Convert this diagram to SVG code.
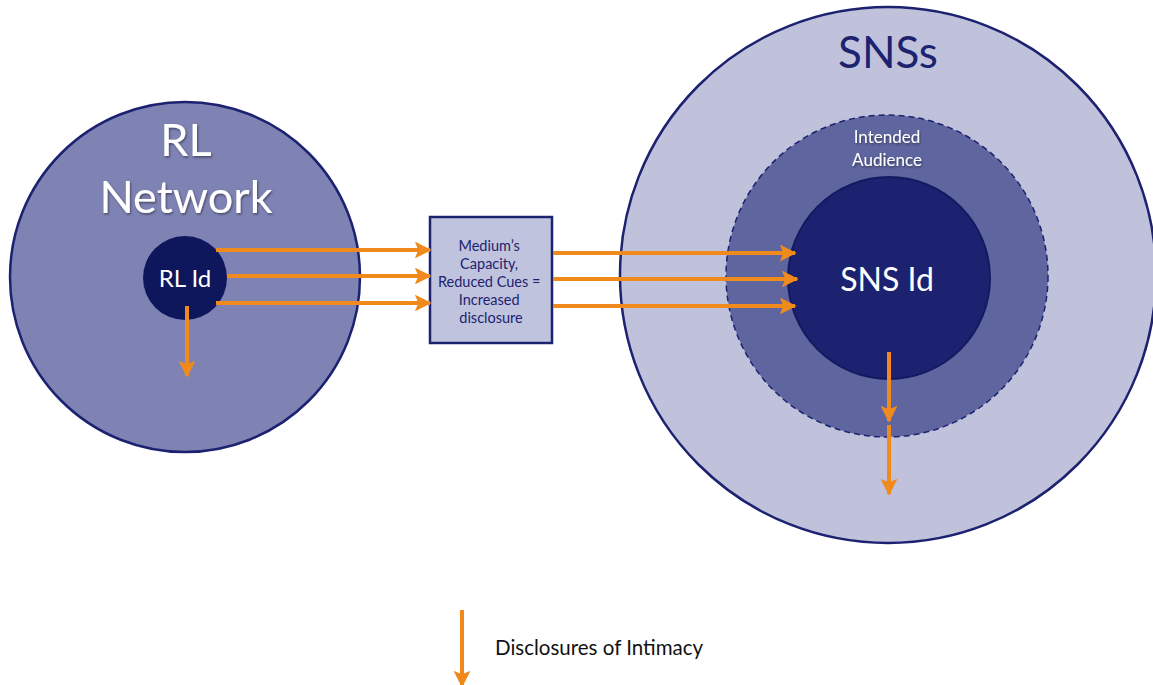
<svg xmlns="http://www.w3.org/2000/svg" width="1153" height="685" viewBox="0 0 1153 685">
<defs>
<marker id="ah" viewBox="0 0 10 10" refX="9" refY="5" markerWidth="4.2" markerHeight="4.2" orient="auto" markerUnits="strokeWidth">
<path d="M0,0 L10,5 L0,10 L2,5 Z" fill="#f08a1c"/>
</marker>
<filter id="sh" x="-10%" y="-10%" width="120%" height="130%">
<feDropShadow dx="1" dy="1.5" stdDeviation="1" flood-color="#000" flood-opacity="0.45"/>
</filter>
</defs>
<style>
.t{font-family:Lato,"Open Sans","DejaVu Sans",sans-serif;text-anchor:middle}
.w{fill:#ffffff}
.n{fill:#1c2270}
.c{stroke:#1c2270;stroke-width:2.5}
.ar{stroke:#f08a1c;stroke-width:4;fill:none;marker-end:url(#ah)}
</style>
<rect width="1153" height="685" fill="#ffffff"/>
<g id="rl-network">
<circle class="c" cx="185" cy="277" r="175" fill="#7e83b4"/>
<text class="t w" x="186" y="156" font-size="45" filter="url(#sh)">RL</text>
<text class="t w" x="186" y="213" font-size="45" filter="url(#sh)">Network</text>
</g>
<g id="rl-id">
<circle cx="185" cy="278" r="42" fill="#0f175c"/>
<text class="t w" x="185" y="287" font-size="24">RL Id</text>
</g>
<g id="medium">
<rect class="c" x="430" y="217" width="122" height="126" fill="#c0c3dd" stroke-width="2"/>
<text class="t n" font-size="14.5">
<tspan x="491" y="251">Medium’s</tspan>
<tspan x="491" y="269">Capacity,</tspan>
<tspan x="491" y="287">Reduced Cues =</tspan>
<tspan x="491" y="305">Increased</tspan>
<tspan x="491" y="323">disclosure</tspan>
</text>
</g>
<g id="snss">
<circle class="c" cx="888" cy="275" r="268" fill="#c0c2dc"/>
<text class="t n" x="888" y="68" font-size="44">SNSs</text>
</g>
<g id="intended-audience">
<circle cx="887" cy="276" r="161" fill="#5f669f" stroke="#1c2270" stroke-width="1.5" stroke-dasharray="6,4"/>
<text class="t w" x="887" y="143" font-size="17" filter="url(#sh)">Intended</text>
<text class="t w" x="887" y="166" font-size="17" filter="url(#sh)">Audience</text>
</g>
<g id="sns-id">
<circle cx="889" cy="278" r="101" fill="#1c2270" stroke="#141a60" stroke-width="2"/>
<text class="t w" x="887" y="291" font-size="32">SNS Id</text>
</g>
<g id="connectors">
<line class="ar" x1="216" y1="250" x2="430" y2="250"/>
<line class="ar" x1="227" y1="276" x2="430" y2="276"/>
<line class="ar" x1="216" y1="303" x2="430" y2="303"/>
<line class="ar" x1="553" y1="253" x2="795" y2="253"/>
<line class="ar" x1="553" y1="279" x2="797" y2="279"/>
<line class="ar" x1="553" y1="306" x2="795" y2="306"/>
<line class="ar" x1="187" y1="306" x2="187" y2="376"/>
<line class="ar" x1="889" y1="352" x2="889" y2="421"/>
<line class="ar" x1="889" y1="425" x2="889" y2="494"/>
</g>
<g id="legend">
<line class="ar" x1="462" y1="610" x2="462" y2="686"/>
<text x="495" y="655" font-size="20.5" fill="#111111" font-family="Lato,'Open Sans','DejaVu Sans',sans-serif">Disclosures of Intimacy</text>
</g>
</svg>
